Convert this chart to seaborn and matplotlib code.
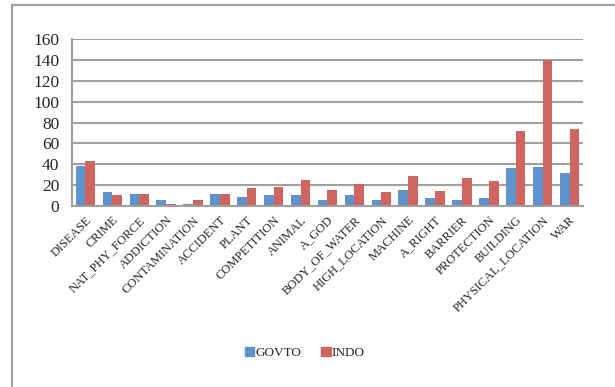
import matplotlib
matplotlib.use("Agg")
import matplotlib.pyplot as plt
import numpy as np
import pandas as pd
import seaborn as sns
from matplotlib.lines import Line2D

categories = [
    "DISEASE", "CRIME", "NAT_PHY_FORCE", "ADDICTION", "CONTAMINATION",
    "ACCIDENT", "PLANT", "COMPETITION", "ANIMAL", "A_GOD", "BODY_OF_WATER",
    "HIGH_LOCATION", "MACHINE", "A_RIGHT", "BARRIER", "PROTECTION",
    "BUILDING", "PHYSICAL_LOCATION", "WAR",
]
govto = [38, 13, 11, 5, 2, 11, 8, 10, 10, 5, 10, 5, 15, 7, 5, 7, 36, 37, 31]
indo = [43, 10, 11, 2, 5, 11, 17, 18, 25, 15, 21, 13, 29, 14, 27, 24, 72, 140, 74]
series = ["GOVTO", "INDO"]
yticks = [0, 20, 40, 60, 80, 100, 120, 140, 160]

df = pd.DataFrame({
    "category": categories * 2,
    "series": [series[0]] * len(categories) + [series[1]] * len(categories),
    "value": govto + indo,
})

sns.set_style("white")
plt.rcParams["font.family"] = ["Liberation Serif", "DejaVu Serif"]

fig = plt.figure(figsize=(6.15, 3.87), dpi=100)
ax = fig.add_axes([0.117, 0.4685, 0.831, 0.4295])

sns.barplot(
    data=df, x="category", y="value", hue="series",
    palette=["#5F93CD", "#CF6560"], width=0.72, saturation=1,
    linewidth=0, ax=ax,
)

ax.set_ylim(0, 160)
ax.set_yticks(yticks)
ax.set_xlim(-0.5, len(categories) - 0.5)
ax.yaxis.grid(True, color="#a0a0a0", linewidth=1.5)
ax.set_axisbelow(True)
ax.set_xlabel("")
ax.set_ylabel("")
for s in ["top", "right"]:
    ax.spines[s].set_visible(False)
for s in ["left", "bottom"]:
    ax.spines[s].set_color("#a0a0a0")
    ax.spines[s].set_linewidth(1.5)

ax.tick_params(axis="y", length=5, width=1.5, color="#a0a0a0", labelsize=12.5, pad=4)
ax.set_xticks(np.arange(len(categories)))
ax.set_xticklabels(categories, rotation=45, ha="right", rotation_mode="anchor", fontsize=9)
ax.tick_params(axis="x", length=0, pad=6)
# tick marks between category groups
ax.set_xticks(np.arange(len(categories) + 1) - 0.5, minor=True)
ax.tick_params(axis="x", which="minor", length=5, width=1.5, color="#a0a0a0")

handles = [
    plt.Rectangle((0, 0), 1, 1, color="#5F93CD"),
    plt.Rectangle((0, 0), 1, 1, color="#CF6560"),
]
ax.get_legend().remove()
fig.legend(
    handles, series, loc="center", bbox_to_anchor=(305 / 615, 1 - 353 / 387),
    ncol=2, frameon=False, fontsize=9.5, handlelength=0.7, handleheight=0.7,
    handletextpad=0.1, columnspacing=1.5,
)

# outer chart frame
fig.add_artist(Line2D([12 / 615, 12 / 615], [0, 1 - 5 / 387], color="#a0a0a0", linewidth=1.5))
fig.add_artist(Line2D([12 / 615, 1], [1 - 5 / 387, 1 - 5 / 387], color="#a0a0a0", linewidth=1.5))

fig.savefig("out.png", dpi=100)
